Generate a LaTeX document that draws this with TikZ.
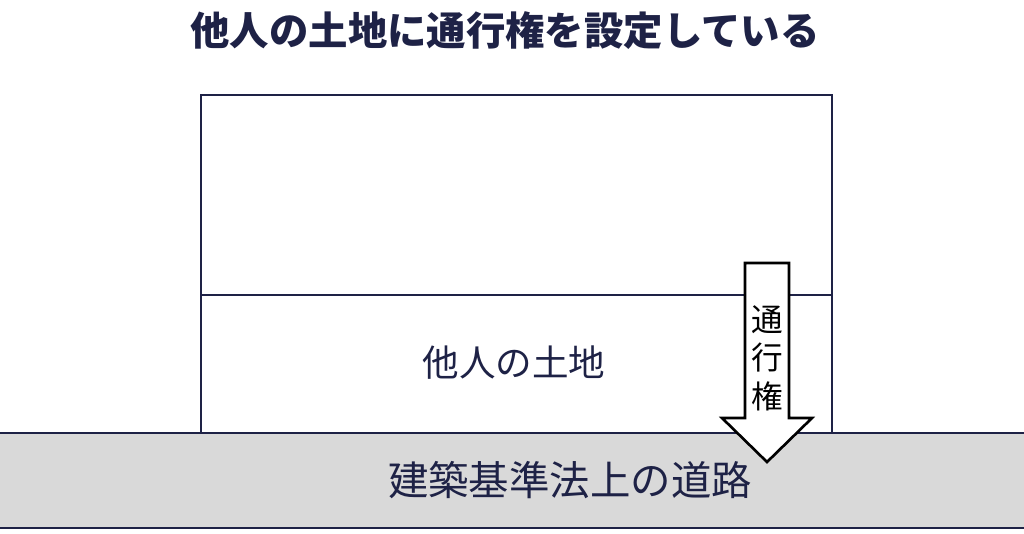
\documentclass[tikz,border=0pt]{standalone}
\usepackage{fontspec}
\usetikzlibrary{positioning,calc}
\newfontfamily\jp{Noto Sans CJK JP}
\definecolor{navy}{HTML}{1E2246}
\definecolor{road}{HTML}{D9D9D9}
\tikzstyle{edge}=[draw=navy,line width=0.75pt]
\tikzstyle{label}=[inner sep=0pt,text=navy,font=\jp]

\begin{document}
\begin{tikzpicture}[x=0.01cm,y=-0.01cm]
  \useasboundingbox (0,0) rectangle (1024,533);

  % road
  \fill [road] (0,433) rectangle (1024,528);
  \draw [edge] (0,433) -- (1024,433);
  \draw [edge] (0,528) -- (1024,528);

  % land
  \draw [edge, fill=white] (201,95) rectangle (832,433);
  \draw [edge] (201,295) -- (832,295);

  % right of way arrow
  \draw [draw=black, line width=0.75pt, fill=white]
    (745,263) -- (789,263) -- (789,418) -- (812,418) -- (767,462)
    -- (722,418) -- (745,418) -- cycle;

  \node [label, font=\jp\bfseries\fontsize{11.2}{13}\selectfont] at (505,31) (title) {他人の土地に通行権を設定している};
  \node [label, font=\jp\fontsize{10.4}{12}\selectfont] at (514,363) (land) {他人の土地};
  \node [label, font=\jp\fontsize{11.5}{13}\selectfont] at (570,480) (road) {建築基準法上の道路};
  \node [label, text=black, font=\jp\fontsize{9}{10}\selectfont, align=center] at (767,358) (right) {通\\[1pt]行\\[1pt]権};
\end{tikzpicture}
\end{document}
